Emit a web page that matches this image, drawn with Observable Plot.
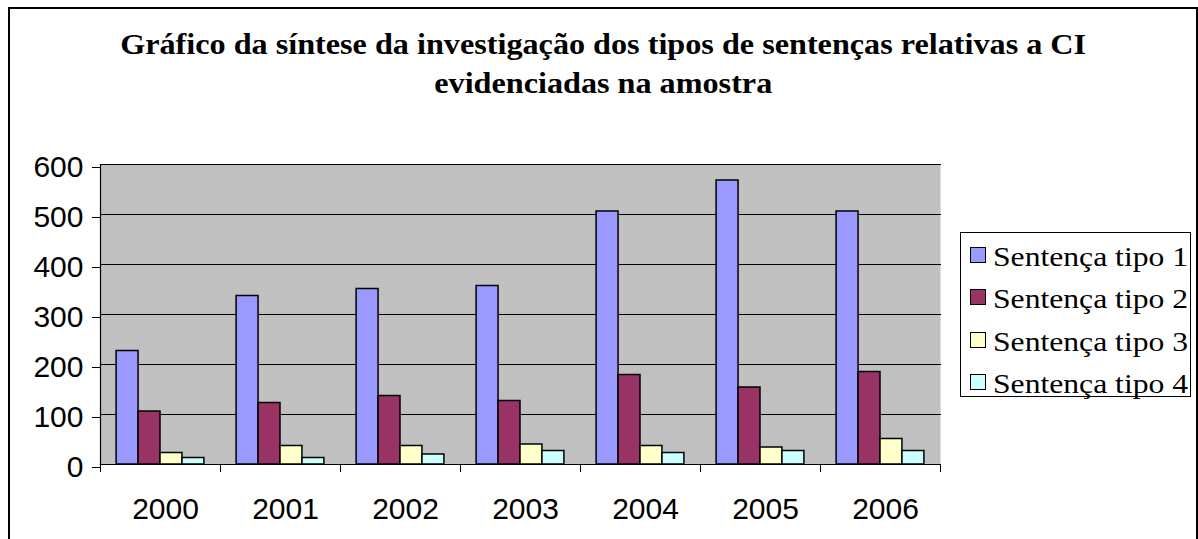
<!DOCTYPE html>
<html>
<head>
<meta charset="utf-8">
<script src="https://cdn.jsdelivr.net/npm/d3@7"></script>
<script src="https://cdn.jsdelivr.net/npm/@observablehq/plot@0.6"></script>
<style>
  body { margin: 0; background: #fff; }
  #wrap { position: relative; width: 1198px; height: 539px; overflow: hidden; background: #fff; }
  #frame { position: absolute; left: 8px; top: 7px; width: 1190px; height: 600px; box-sizing: border-box; border: 2px solid #000; }
  #chart { position: absolute; left: 0; top: 0; }
  #title { position: absolute; left: 8px; width: 1190px; top: 25px; text-align: center;
           font-family: "Liberation Serif", "DejaVu Serif", serif; font-weight: bold; font-size: 29px;
           line-height: 39px; color: #000; }
  #title span { display: inline-block; transform: scaleX(1.11); transform-origin: center; }
  #legend { position: absolute; left: 960px; top: 232px; width: 231px; height: 165px; box-sizing: border-box;
            border: 1px solid #000; background: #fff; padding-top: 1px; }
  .item { display: flex; align-items: center; height: 42.3px; }
  .sw { width: 16px; height: 16px; box-sizing: border-box; border: 1.5px solid #000; margin-left: 9px; flex: none; }
  .lbl { margin-left: 7px; font-family: "Liberation Serif", "DejaVu Serif", serif; font-size: 28px; color: #000;
         white-space: nowrap; display: inline-block; transform: scaleX(1.13); transform-origin: left center;
         position: relative; top: 2px; }
</style>
</head>
<body>
<div id="wrap">
  <div id="chart"></div>
  <div id="frame"></div>
  <div id="title"><span>Gráfico da síntese da investigação dos tipos de sentenças relativas a CI</span><br><span>evidenciadas na amostra</span></div>
  <div id="legend"></div>
</div>
<script>
const years = ["2000", "2001", "2002", "2003", "2004", "2005", "2006"];
const seriesNames = ["Sentença tipo 1", "Sentença tipo 2", "Sentença tipo 3", "Sentença tipo 4"];
const tipo1 = [227, 337, 351, 357, 506, 568, 506];
const tipo2 = [106, 123, 137, 127, 179, 154, 185];
const tipo3 = [23, 37, 37, 40, 37, 34, 51];
const tipo4 = [13, 13, 20, 27, 23, 27, 27];
const colors = ["#9999FF", "#993366", "#FFFFCC", "#CCFFFF"];
const yTicks = [0, 100, 200, 300, 400, 500, 600];

const seriesValues = [tipo1, tipo2, tipo3, tipo4];
const data = [];
years.forEach((yr, i) => seriesNames.forEach((s, j) => data.push({year: yr, series: s, value: seriesValues[j][i]})));

const W = 1198, H = 539, mL = 99, mR = 257, mT = 164, mB = 75;
const step = Math.floor((W - mL - mR) / years.length);

const chart = Plot.plot({
  width: W, height: H,
  marginLeft: mL, marginRight: mR, marginTop: mT, marginBottom: mB,
  style: {background: "transparent", fontFamily: "'Liberation Sans', Arial, sans-serif", color: "#000"},
  fx: {domain: years, padding: 0, round: true, label: null},
  x: {domain: seriesNames, paddingInner: 0, paddingOuter: 0.734, round: false, axis: null},
  y: {domain: [0, 600], axis: null},
  color: {domain: seriesNames, range: colors},
  marks: [
    Plot.frame({fill: "#C0C0C0", stroke: null, facet: "super"}),
    Plot.ruleY(yTicks.slice(1), {stroke: "#000", strokeWidth: 1, insetRight: -1}),
    Plot.barY(data, {fx: "year", x: "series", y: "value", fill: "series", stroke: "#000", strokeWidth: 1.5}),
    Plot.ruleY([0], {stroke: "#000", strokeWidth: 1.2, insetRight: -1}),
    Plot.frame({anchor: "left", stroke: "#000", strokeWidth: 1.2, facet: "super"}),
    Plot.axisY({ticks: yTicks, tickSize: 8, tickPadding: 9, fontSize: 30, dy: 3, label: null, stroke: "#000"}),
    Plot.axisFx({anchor: "bottom", tickSize: 8, tickFormat: () => "", dx: -step / 2, label: null}),
    Plot.axisFx({anchor: "bottom", ticks: [years[years.length - 1]], tickSize: 8, tickFormat: () => "", dx: step / 2, label: null}),
    Plot.axisFx({anchor: "bottom", tickSize: 0, tickPadding: 33, fontSize: 30, dx: 5, label: null})
  ]
});
document.getElementById("chart").appendChild(chart);

const legend = document.getElementById("legend");
seriesNames.forEach((s, i) => {
  const row = document.createElement("div");
  row.className = "item";
  const sw = document.createElement("div");
  sw.className = "sw";
  sw.style.background = colors[i];
  const lbl = document.createElement("span");
  lbl.className = "lbl";
  lbl.textContent = s;
  row.appendChild(sw);
  row.appendChild(lbl);
  legend.appendChild(row);
});
</script>
</body>
</html>
